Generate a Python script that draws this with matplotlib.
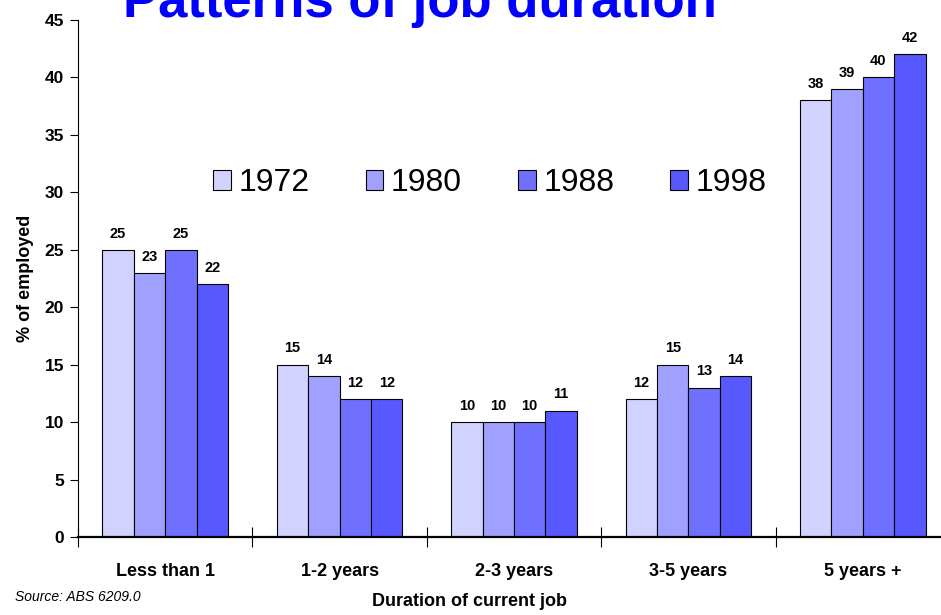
import matplotlib
matplotlib.use("Agg")
import matplotlib.pyplot as plt
import numpy as np
from matplotlib.patches import Patch

categories = ["Less than 1", "1-2 years", "2-3 years", "3-5 years", "5 years +"]
years = ["1972", "1980", "1988", "1998"]
v1972 = [25, 15, 10, 12, 38]
v1980 = [23, 14, 10, 15, 39]
v1988 = [25, 12, 10, 13, 40]
v1998 = [22, 12, 11, 14, 42]
series = [v1972, v1980, v1988, v1998]
colors = ["#D2D2FF", "#A0A0FF", "#7070FF", "#5858FF"]

fig = plt.figure(figsize=(9.41, 6.15), dpi=100)
ax = fig.add_axes([78/941, 1-537/615, 872/941, 517/615])

x = np.arange(len(categories))
w = 0.18
for i, (vals, c) in enumerate(zip(series, colors)):
    pos = x + (i - 1.5) * w
    ax.bar(pos, vals, width=w, color=c, edgecolor="black", linewidth=0.8, zorder=2)
    for p, v in zip(pos, vals):
        ax.text(p, v + 0.8, str(v), ha="center", va="bottom", fontsize=10.5,
                fontweight="bold", family="Liberation Sans")

ax.set_xlim(-0.5, 4.5)
ax.set_ylim(0, 45)
ax.set_yticks(np.arange(0, 46, 5))
ax.set_yticklabels([str(t) for t in range(0, 46, 5)], fontsize=12.5, fontweight="bold",
                   family="Liberation Sans")
ax.set_xticks(x)
ax.set_xticklabels(categories, fontsize=13, fontweight="bold", family="Liberation Sans")
ax.tick_params(axis="x", which="major", length=0, pad=19)
ax.set_xticks(np.arange(-0.5, 4.6, 1), minor=True)
ax.tick_params(axis="x", which="minor", direction="inout", length=14, width=0.8)
ax.tick_params(axis="y", direction="out", length=6, width=0.8, pad=4)
for s in ["top", "right"]:
    ax.spines[s].set_visible(False)
ax.spines["left"].set_linewidth(0.8)
ax.spines["bottom"].set_linewidth(1.6)

ax.set_ylabel("% of employed", fontsize=13, fontweight="bold", family="Liberation Sans",
              labelpad=8)
fig.text(470/941, 1-601/615, "Duration of current job", ha="center", va="center",
         fontsize=13, fontweight="bold", family="Liberation Sans")
fig.text(15/941, 1-597/615, "Source: ABS 6209.0", ha="left", va="center",
         fontsize=10, style="italic", family="Liberation Sans")

handles = [Patch(facecolor=c, edgecolor="black", linewidth=0.8) for c in colors]
leg = ax.legend(handles, years, loc="center", bbox_to_anchor=(490/941, 1-183/615),
                bbox_transform=fig.transFigure, ncol=4, frameon=False,
                prop={"family": "Liberation Sans", "size": 23},
                handlelength=0.55, handleheight=0.6, handletextpad=0.25, columnspacing=1.75)

fig.text(420/941, 1-17/615, "Patterns of job duration", ha="center", va="baseline",
         fontsize=38, fontweight="bold", color="#0000FF",
         family=["Liberation Sans Narrow", "Liberation Sans"])

fig.savefig("out.png", dpi=100)
